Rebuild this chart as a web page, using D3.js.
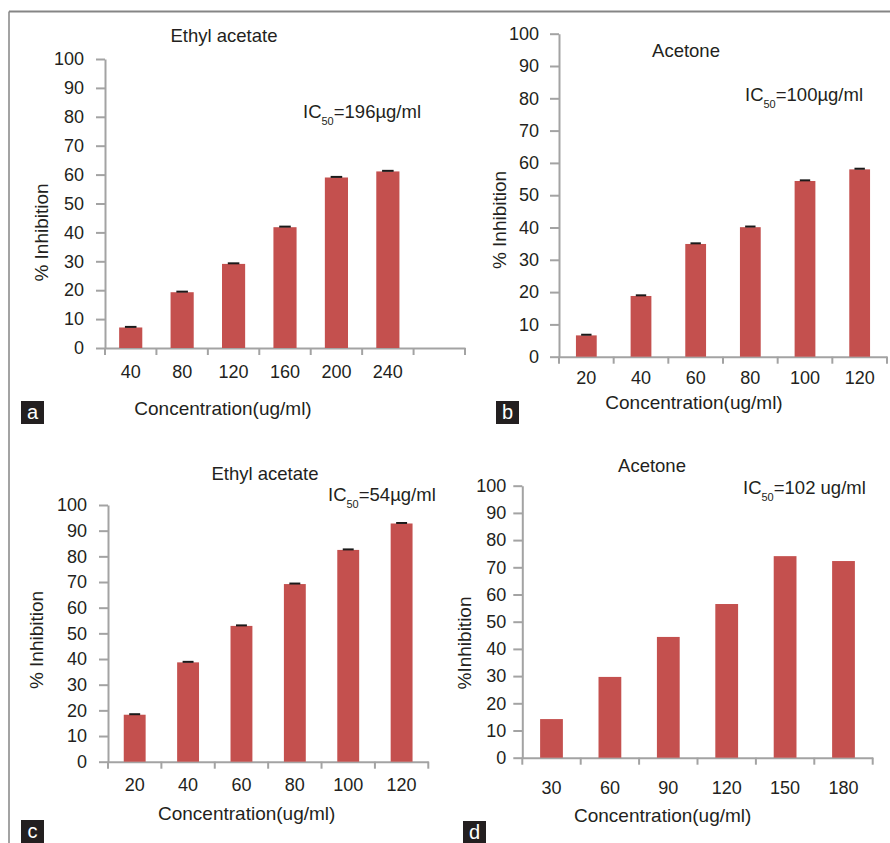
<!DOCTYPE html>
<html>
<head>
<meta charset="utf-8">
<script src="https://cdn.jsdelivr.net/npm/d3@7"></script>
<style>
  body { margin: 0; background: #fff; }
  text { font-family: "Liberation Sans", Arial, sans-serif; fill: #231f20; }
</style>
</head>
<body>
<script>
// Tick labels for the % inhibition axis, shared by all four panels
var yTicks = [0, 10, 20, 30, 40, 50, 60, 70, 80, 90, 100];

// a: Ethyl acetate
var concA = ["40", "80", "120", "160", "200", "240"];
var valsA = [7.1, 19.3, 29.1, 41.8, 59.0, 61.1];
var errA = [0.2, 0.2, 0.2, 0.2, 0.2, 0.2];

// b: Acetone
var concB = ["20", "40", "60", "80", "100", "120"];
var valsB = [6.6, 18.8, 34.9, 40.1, 54.4, 58.0];
var errB = [0.2, 0.2, 0.2, 0.2, 0.2, 0.2];

// c: Ethyl acetate
var concC = ["20", "40", "60", "80", "100", "120"];
var valsC = [18.3, 38.7, 52.9, 69.2, 82.5, 92.8];
var errC = [0.2, 0.2, 0.2, 0.2, 0.2, 0.2];

// d: Acetone (no error bars)
var concD = ["30", "60", "90", "120", "150", "180"];
var valsD = [14.2, 29.7, 44.4, 56.5, 74.1, 72.3];

var svg = d3.select("body").append("svg")
    .attr("width", 890)
    .attr("height", 843);

//Outer frame (top and left edges only)
svg.append("line").attr("x1", 9).attr("x2", 890).attr("y1", 11.5).attr("y2", 11.5)
    .attr("stroke", "#858585").attr("stroke-width", 2);
svg.append("line").attr("x1", 9).attr("x2", 9).attr("y1", 11.5).attr("y2", 843)
    .attr("stroke", "#858585").attr("stroke-width", 1.5);

var panels = [
  { letter: "a", cats: concA, vals: valsA, errs: errA, blank: 1,
    x0: 105, x1: 465, y0: 348, y1: 59, barRatio: 0.45, tickPad: 12, xPad: 17,
    title: "Ethyl acetate", titleX: 224, titleY: 41.5,
    ic: "196µg/ml", icX: 303, icY: 118,
    yLabel: "% Inhibition", yLabX: 48, yLabY: 232.5,
    xLabX: 223, xLabY: 415, box: [21, 401] },
  { letter: "b", cats: concB, vals: valsB, errs: errB, blank: 0,
    x0: 559, x1: 887, y0: 356.7, y1: 33.7, barRatio: 0.38, tickPad: 11, xPad: 15,
    title: "Acetone", titleX: 686, titleY: 57,
    ic: "100µg/ml", icX: 745, icY: 101,
    yLabel: "% Inhibition", yLabX: 506, yLabY: 220,
    xLabX: 694, xLabY: 409, box: [496, 401] },
  { letter: "c", cats: concC, vals: valsC, errs: errC, blank: 0,
    x0: 108, x1: 428.3, y0: 761.7, y1: 505, barRatio: 0.41, tickPad: 12, xPad: 17,
    title: "Ethyl acetate", titleX: 265, titleY: 480,
    ic: "54µg/ml", icX: 328, icY: 500.5,
    yLabel: "% Inhibition", yLabX: 43, yLabY: 640,
    xLabX: 246.7, xLabY: 820, box: [21, 820] },
  { letter: "d", cats: concD, vals: valsD, errs: null, blank: 0,
    x0: 522.3, x1: 872.7, y0: 757.7, y1: 485.7, barRatio: 0.39, tickPad: 7, xPad: 24,
    title: "Acetone", titleX: 652, titleY: 471.5,
    ic: "102 ug/ml", icX: 743, icY: 494,
    yLabel: "%Inhibition", yLabX: 471, yLabY: 643,
    xLabX: 662.7, xLabY: 821.7, box: [463, 821] }
];

panels.forEach(drawPanel);

function drawPanel(p) {
    var domain = p.cats.concat(d3.range(p.blank).map(function (i) { return "blank" + i; }));

    var x = d3.scaleBand()
        .domain(domain)
        .range([p.x0, p.x1])
        .padding(0);

    var y = d3.scaleLinear()
        .domain([0, 100])
        .range([p.y0, p.y1]);

    var g = svg.append("g");

    //Y axis
    var yAxis = g.append("g")
        .attr("transform", "translate(" + p.x0 + ",0)")
        .call(d3.axisLeft(y).tickValues(yTicks).tickSize(9).tickSizeOuter(0).tickPadding(p.tickPad));
    yAxis.selectAll("text").style("font-size", "18px");

    //X axis, labels centred under each category
    var xAxis = g.append("g")
        .attr("transform", "translate(0," + p.y0 + ")")
        .call(d3.axisBottom(x).tickSize(0).tickSizeOuter(0).tickPadding(p.xPad)
            .tickFormat(function (d) { return d.indexOf("blank") === 0 ? "" : d; }));
    xAxis.selectAll("text").style("font-size", "18px");

    //Excel style ticks sit between categories
    var edges = d3.range(domain.length + 1).map(function (i) { return p.x0 + i * x.step(); });
    g.selectAll(".edge")
        .data(edges)
        .enter()
        .append("line")
        .attr("class", "edge")
        .attr("x1", function (d) { return d; })
        .attr("x2", function (d) { return d; })
        .attr("y1", p.y0)
        .attr("y2", p.y0 + 7);

    g.selectAll(".domain, .tick line, .edge")
        .attr("stroke", "#a3a3a3")
        .attr("stroke-width", 2);

    //Bars
    var bw = x.step() * p.barRatio;
    g.selectAll(".bar")
        .data(p.vals)
        .enter()
        .append("rect")
        .attr("class", "bar")
        .attr("x", function (d, i) { return x(p.cats[i]) + (x.bandwidth() - bw) / 2; })
        .attr("y", function (d) { return y(d); })
        .attr("width", bw)
        .attr("height", function (d) { return y(0) - y(d); })
        .attr("fill", "#c4504e");

    //Error bar caps
    if (p.errs) {
        g.selectAll(".cap")
            .data(p.vals)
            .enter()
            .append("line")
            .attr("class", "cap")
            .attr("x1", function (d, i) { return x(p.cats[i]) + x.bandwidth() / 2 - bw / 4; })
            .attr("x2", function (d, i) { return x(p.cats[i]) + x.bandwidth() / 2 + bw / 4; })
            .attr("y1", function (d, i) { return y(d + p.errs[i]); })
            .attr("y2", function (d, i) { return y(d + p.errs[i]); })
            .attr("stroke", "#1a1a1a")
            .attr("stroke-width", 2);
    }

    //Title
    g.append("text")
        .attr("x", p.titleX)
        .attr("y", p.titleY)
        .attr("text-anchor", "middle")
        .style("font-size", "18.5px")
        .text(p.title);

    //IC50 note
    var ic = g.append("text")
        .attr("x", p.icX)
        .attr("y", p.icY)
        .style("font-size", "18.5px");
    ic.append("tspan").text("IC");
    ic.append("tspan").attr("dy", 7).style("font-size", "11px").text("50");
    ic.append("tspan").attr("dy", -7).text("=" + p.ic);

    //Axis titles
    g.append("text")
        .attr("transform", "translate(" + p.yLabX + "," + p.yLabY + ") rotate(-90)")
        .attr("text-anchor", "middle")
        .style("font-size", "19px")
        .text(p.yLabel);

    g.append("text")
        .attr("x", p.xLabX)
        .attr("y", p.xLabY)
        .attr("text-anchor", "middle")
        .style("font-size", "19px")
        .text("Concentration(ug/ml)");

    //Panel letter
    g.append("rect")
        .attr("x", p.box[0])
        .attr("y", p.box[1])
        .attr("width", 23)
        .attr("height", 23)
        .attr("fill", "#231f20");
    g.append("text")
        .attr("x", p.box[0] + 11.5)
        .attr("y", p.box[1] + 18)
        .attr("text-anchor", "middle")
        .style("font-size", "20px")
        .style("fill", "#fff")
        .text(p.letter);
}
</script>
</body>
</html>
